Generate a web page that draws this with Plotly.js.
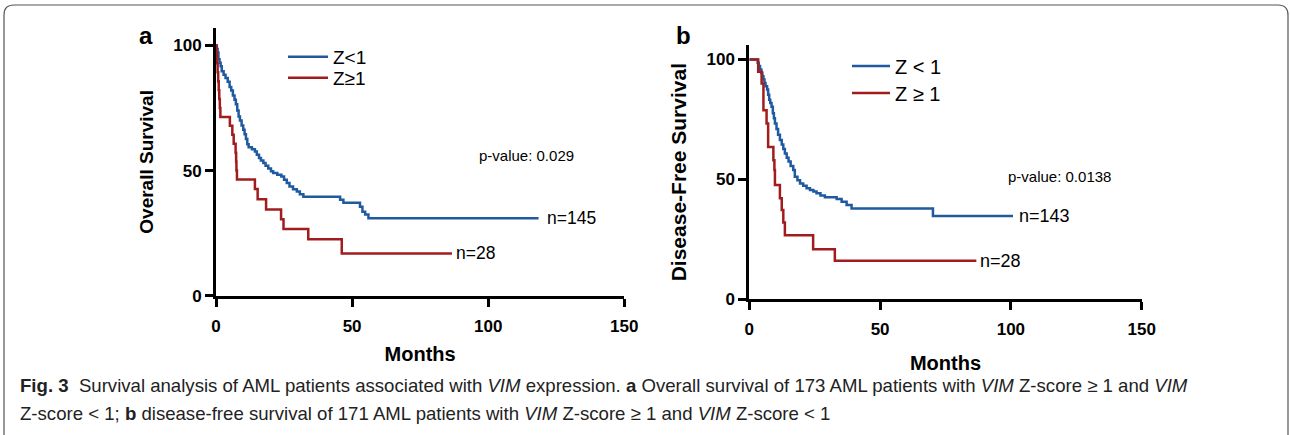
<!DOCTYPE html>
<html>
<head>
<meta charset="utf-8">
<script src="https://cdn.plot.ly/plotly-3.0.1.min.js"></script>
<style>
html,body{margin:0;padding:0;background:#fff;}
#chart{width:1290px;height:435px;}
</style>
</head>
<body>
<div id="chart"></div>
<script>
// ---- Panel a: Overall survival (months, % surviving) ----
const osLowMonths = [0,0.3,0.6,0.9,1.3,1.7,2.1,2.8,3.5,4.3,5.0,5.6,6.2,6.8,7.3,7.8,8.3,8.8,9.4,10.0,10.5,11.0,11.5,12.0,13.2,14.3,15.0,15.8,16.5,17.4,18.2,19.2,20.2,21.0,22.5,24.0,25.0,26.0,27.0,28.3,29.7,30.8,32.1,45.6,46.8,52.9,53.8,54.8,56.0,118.5];
const osLowSurv   = [100,98.6,97.2,94.5,93.1,91.7,89.7,88.3,87.0,85.5,83.4,82.0,80.0,78.3,76.5,74.0,71.6,70.0,68.0,66.3,64.5,62.6,60.5,59.3,58.5,57.6,56.3,55.0,54.0,53.0,51.9,50.8,49.7,49.0,48.3,47.6,46.3,45.0,43.6,42.5,41.6,40.5,39.6,38.4,37.2,35.6,33.6,32.5,31.0,31.0];
const osHighMonths = [0,0.2,0.4,0.6,0.8,1.0,1.2,1.4,1.6,5.1,6.0,6.5,7.2,7.4,7.5,7.7,14.3,15.3,18.4,23.9,24.8,33.9,46.2,86.7];
const osHighSurv   = [100,96.4,92.9,89.3,85.7,82.1,78.6,75.0,71.4,67.9,64.3,60.7,57.1,53.6,50.0,46.4,42.6,38.6,34.5,30.6,26.7,22.6,16.9,16.9];

// ---- Panel b: Disease-free survival ----
const dfsLowMonths = [0,2.8,3.2,3.6,4.1,4.6,5.0,5.4,5.8,6.2,6.8,7.2,7.6,8.0,8.5,9.0,9.4,9.8,10.4,11.0,11.7,12.4,13.0,13.6,14.3,15.0,15.8,16.8,17.4,18.4,19.4,20.6,21.9,23.2,24.5,25.7,27.2,28.9,33.4,35.3,37.2,39.1,70.2,100.8];
const dfsLowSurv   = [100,100,98.6,97.2,95.8,94.4,93.0,91.6,90.2,88.8,87.4,85.3,83.2,81.8,80.3,77.5,75.5,73.3,71.0,68.6,66.4,64.5,62.6,60.8,59.0,57.4,55.6,53.9,51.1,49.6,48.3,47.3,46.3,45.6,44.9,44.2,43.3,42.5,41.8,40.7,39.3,37.9,34.7,34.7];
const dfsHighMonths = [0,2.8,3.4,4.7,5.4,6.6,7.2,9.2,9.6,9.8,11.7,12.4,13.0,13.6,24.4,32.7,86.8];
const dfsHighSurv   = [100,100,94.8,89.9,78.8,73.3,63.5,58.0,53.9,47.6,42.1,37.2,32.0,26.7,20.9,16.1,16.1];

const xTicks = [0,50,100,150];
const yTicks = [0,50,100];
const namesA = ["Z<1","Z≥1"];
const namesB = ["Z < 1","Z ≥ 1"];
const nLabelsA = ["n=145","n=28"];
const nLabelsB = ["n=143","n=28"];
const pA = "p-value: 0.029";
const pB = "p-value: 0.0138";

const BLUE = "#1f5aa0", RED = "#a11d1d";
const W = 1290, H = 435;
const px = v => v / W, py = v => 1 - v / H;
const F = "Liberation Sans, Arial, sans-serif";

const traces = [
  {x: osLowMonths, y: osLowSurv, name: namesA[0], mode: "lines", line: {color: BLUE, width: 2.5, shape: "hv"}, xaxis: "x", yaxis: "y", legend: "legend"},
  {x: osHighMonths, y: osHighSurv, name: namesA[1], mode: "lines", line: {color: RED, width: 2.5, shape: "hv"}, xaxis: "x", yaxis: "y", legend: "legend2"},
  {x: dfsLowMonths, y: dfsLowSurv, name: namesB[0], mode: "lines", line: {color: BLUE, width: 2.5, shape: "hv"}, xaxis: "x2", yaxis: "y2", legend: "legend3"},
  {x: dfsHighMonths, y: dfsHighSurv, name: namesB[1], mode: "lines", line: {color: RED, width: 2.5, shape: "hv"}, xaxis: "x2", yaxis: "y2", legend: "legend4"}
];

function xAx(dom, anchor, standoff, labOff) {
  return {domain: dom, anchor: anchor, range: [0,150], tickvals: xTicks, ticktext: xTicks.map(String),
    showline: true, linewidth: 3, linecolor: "#000", ticks: "outside", ticklen: 8, tickwidth: 3, tickcolor: "#000",
    showgrid: false, zeroline: false, fixedrange: true, automargin: false, ticklabelstandoff: labOff,
    tickfont: {family: F, size: 17, weight: "bold", color: "#000"},
    title: {text: "Months", font: {family: F, size: 20, weight: "bold", color: "#000"}, standoff: standoff}};
}
function yAx(dom, anchor, top, title, size) {
  return {domain: dom, anchor: anchor, range: [0, top], tickvals: yTicks, ticktext: yTicks.map(String),
    showline: true, linewidth: 3, linecolor: "#000", ticks: "outside", ticklen: 8, tickwidth: 3, tickcolor: "#000",
    showgrid: false, zeroline: false, fixedrange: true, automargin: false,
    tickfont: {family: F, size: 17, weight: "bold", color: "#000"},
    title: {text: title, font: {family: F, size: size, weight: "bold", color: "#000"}, standoff: 15}};
}
function leg(xPix, yPix, size, iw) {
  return {x: px(xPix), y: py(yPix), xanchor: "left", yanchor: "middle", bgcolor: "rgba(0,0,0,0)",
    font: {family: F, size: size, color: "#000"}, itemwidth: iw, tracegroupgap: 0};
}

const r = 10, bx0 = 4, by0 = 5, bx1 = 1288, by1 = 445;
const border = `M ${px(bx0)} ${py(by0 + r)} Q ${px(bx0)} ${py(by0)} ${px(bx0 + r)} ${py(by0)} L ${px(bx1 - r)} ${py(by0)} Q ${px(bx1)} ${py(by0)} ${px(bx1)} ${py(by0 + r)} L ${px(bx1)} ${py(by1 - r)} Q ${px(bx1)} ${py(by1)} ${px(bx1 - r)} ${py(by1)} L ${px(bx0 + r)} ${py(by1)} Q ${px(bx0)} ${py(by1)} ${px(bx0)} ${py(by1 - r)} Z`;

const CF = "Liberation Sans, Arial, sans-serif";
const cap1 = "<b>Fig. 3</b>  Survival analysis of AML patients associated with <i>VIM</i> expression. <b>a</b> Overall survival of 173 AML patients with <i>VIM</i> Z-score ≥ 1 and <i>VIM</i>";
const cap2 = "Z-score < 1; <b>b</b> disease-free survival of 171 AML patients with <i>VIM</i> Z-score ≥ 1 and <i>VIM</i> Z-score < 1";

const layout = {
  width: W, height: H, margin: {l: 0, r: 0, t: 0, b: 0},
  paper_bgcolor: "#fff", plot_bgcolor: "rgba(0,0,0,0)",
  showlegend: true,
  xaxis: xAx([px(216), px(624.3)], "y", 12, 5),
  yaxis: yAx([py(295.7), py(28)], "x", 107, "Overall Survival", 19),
  xaxis2: xAx([px(749.3), px(1141.7)], "y2", 19, 4),
  yaxis2: yAx([py(299.3), py(45)], "x2", 106, "Disease-Free Survival", 21),
  legend: leg(283, 57, 19, 40),
  legend2: leg(283, 78, 19, 40),
  legend3: leg(847, 66, 20, 38),
  legend4: leg(847, 93, 20, 38),
  shapes: [{type: "path", xref: "paper", yref: "paper", path: border, line: {color: "#555", width: 1.2}, fillcolor: "rgba(0,0,0,0)"}],
  annotations: [
    {xref: "paper", yref: "paper", x: px(146), y: py(36), xanchor: "center", yanchor: "middle", text: "<b>a</b>", showarrow: false, font: {family: F, size: 24, color: "#000"}},
    {xref: "paper", yref: "paper", x: px(683), y: py(36), xanchor: "center", yanchor: "middle", text: "<b>b</b>", showarrow: false, font: {family: F, size: 24, color: "#000"}},
    {xref: "x", yref: "y", x: osLowMonths[osLowMonths.length-1], y: osLowSurv[osLowSurv.length-1], xanchor: "left", xshift: 6, text: nLabelsA[0], showarrow: false, font: {family: F, size: 17.5, color: "#000"}},
    {xref: "x", yref: "y", x: osHighMonths[osHighMonths.length-1], y: osHighSurv[osHighSurv.length-1], xanchor: "left", xshift: 2, text: nLabelsA[1], showarrow: false, font: {family: F, size: 17.5, color: "#000"}},
    {xref: "x", yref: "y", x: 96, y: 56, xanchor: "left", text: pA, showarrow: false, font: {family: F, size: 15, color: "#000"}},
    {xref: "x2", yref: "y2", x: dfsLowMonths[dfsLowMonths.length-1], y: dfsLowSurv[dfsLowSurv.length-1], xanchor: "left", xshift: 4, text: nLabelsB[0], showarrow: false, font: {family: F, size: 18, color: "#000"}},
    {xref: "x2", yref: "y2", x: dfsHighMonths[dfsHighMonths.length-1], y: dfsHighSurv[dfsHighSurv.length-1], xanchor: "left", xshift: 2, text: nLabelsB[1], showarrow: false, font: {family: F, size: 18, color: "#000"}},
    {xref: "x2", yref: "y2", x: 98, y: 51, xanchor: "left", text: pB, showarrow: false, font: {family: F, size: 15, color: "#000"}},
    {xref: "paper", yref: "paper", x: px(18), y: py(385), xanchor: "left", yanchor: "middle", align: "left", text: cap1, showarrow: false, font: {family: CF, size: 18.6, color: "#222"}},
    {xref: "paper", yref: "paper", x: px(18), y: py(413), xanchor: "left", yanchor: "middle", align: "left", text: cap2, showarrow: false, font: {family: CF, size: 18.6, color: "#222"}}
  ]
};

Plotly.newPlot("chart", traces, layout, {staticPlot: true, displayModeBar: false});
</script>
</body>
</html>
